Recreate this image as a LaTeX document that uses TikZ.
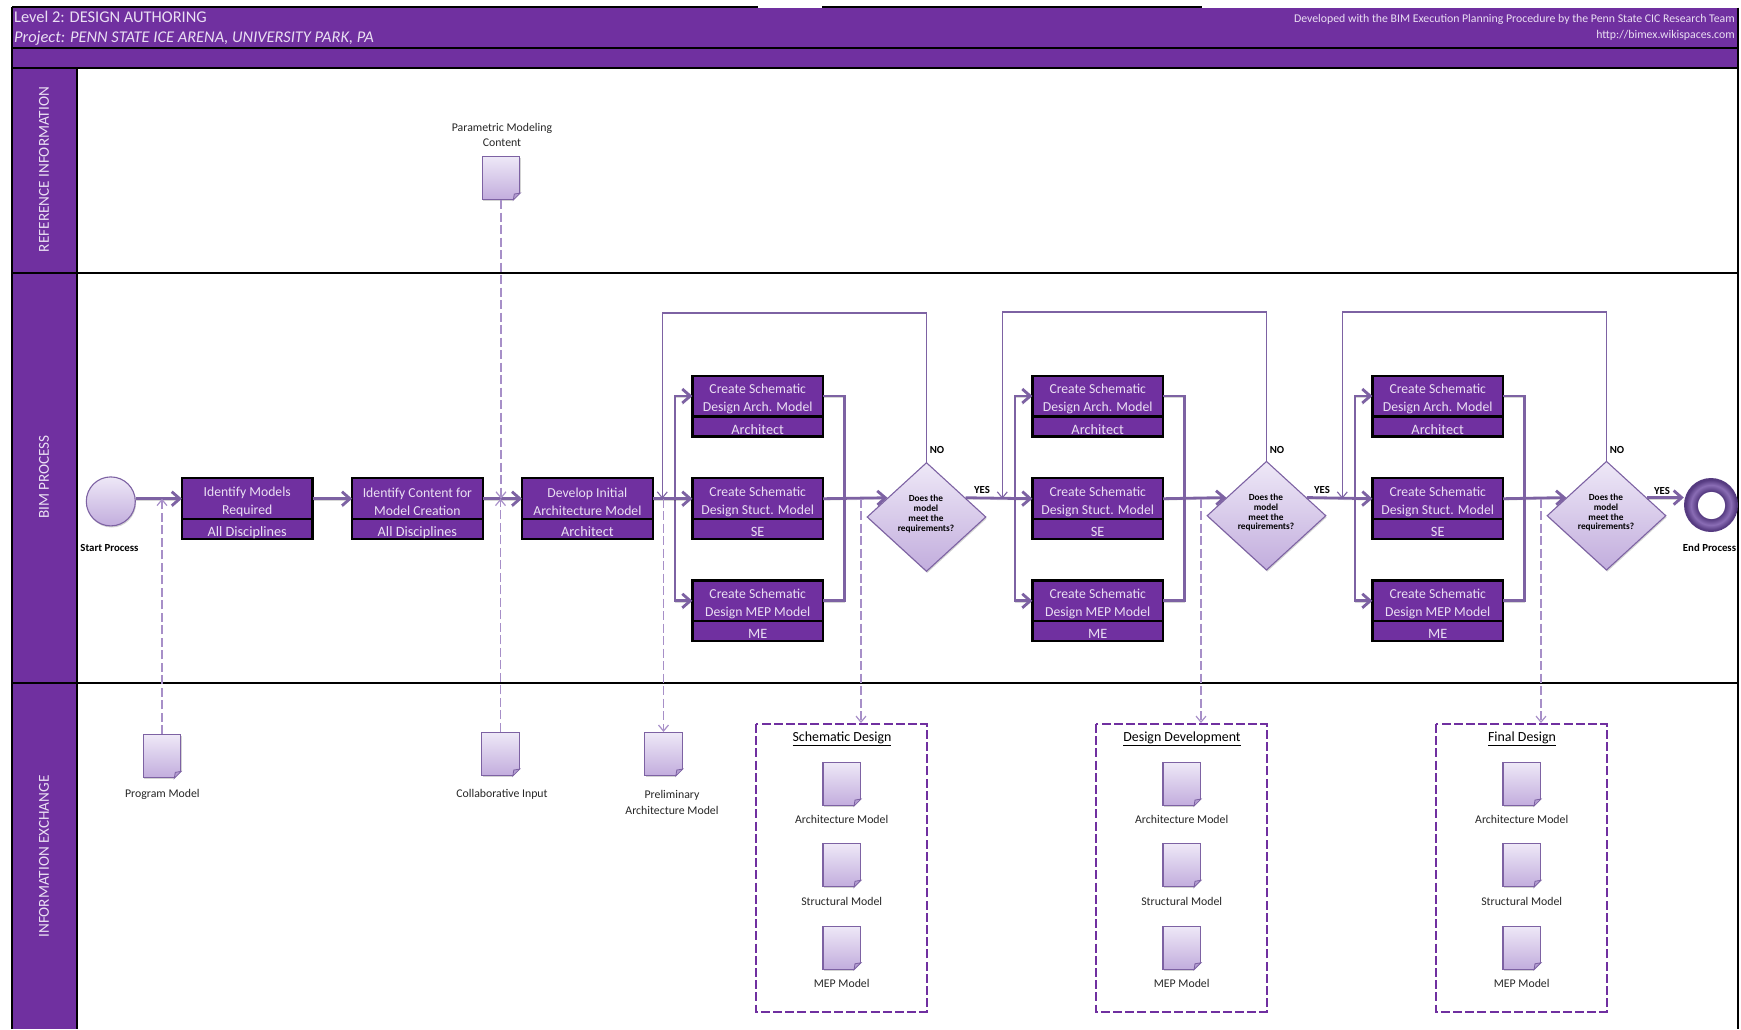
\documentclass[tikz,border=0pt]{standalone}
\usepackage{fontspec}
\setmainfont{Carlito}
\usepackage{xcolor}
\usetikzlibrary{calc,positioning,arrows.meta,shapes.geometric,shadows}

\definecolor{bandpurple}{HTML}{7030A0}
\definecolor{flowpurple}{HTML}{7D62A3}
\definecolor{dashpurple}{HTML}{A78FC8}
\definecolor{paletext}{HTML}{EADFF3}
\definecolor{shadetop}{HTML}{EEE8F7}
\definecolor{shadebot}{HTML}{C2ADDD}
\definecolor{ringdark}{HTML}{553A80}
\definecolor{ringlight}{HTML}{8A6DB5}

\pgfdeclareradialshading{torus}{\pgfpoint{0bp}{0bp}}{%
    color(0bp)=(white); color(12.5bp)=(white); color(12.9bp)=(ringdark);
    color(18.5bp)=(ringlight); color(23.5bp)=(ringdark); color(25bp)=(ringdark); color(50bp)=(ringdark)}

% one document icon with its folded corner
\newcommand{\docicon}[3]{%
    \node[docshape] (#1) at (#2,#3) {};
    \fill[white] ($(#1.south east)+(-8,1)$) -- ++(9,0) -- ++(0,-9) -- cycle;
    \fill[shadebot!80!flowpurple, draw=flowpurple, line width=0.8pt]
        ($(#1.south east)+(-7,0)$) -- ($(#1.south east)+(0,-7)$) -- ($(#1.south east)+(-6,-6)$) -- cycle;
}

% two lines of a task, set a little below the middle of the box
\newcommand{\tasktext}[2]{\rule{0pt}{15.5pt}#1\\#2}
% the role under a task, same idea
\newcommand{\roletext}[1]{\rule[-1pt]{0pt}{17.5pt}#1}

\begin{document}
\begin{tikzpicture}[x=1pt,y=-1pt,>={Straight Barb[length=6pt,width=10pt]}]

    % Styles
    \tikzset{
        taskbox/.style={rectangle, draw=black, line width=2.2pt, fill=bandpurple, text=paletext,
            minimum width=130.6pt, minimum height=40.8pt, inner sep=0pt, outer sep=0pt, align=center,
            font=\fontsize{13.7}{17.7}\selectfont},
        rolebox/.style={taskbox, minimum height=20pt, anchor=north, font=\fontsize{14.3}{17}\selectfont},
        docshape/.style={rectangle, draw=flowpurple, line width=1.1pt, top color=shadetop, bottom color=shadebot,
            minimum width=37.5pt, minimum height=43pt, inner sep=0pt,
            drop shadow={opacity=.35,shadow xshift=.8pt,shadow yshift=-1.6pt}},
        doclabel/.style={align=center, inner sep=0pt, text=black!85, font=\fontsize{11.8}{15.5}\selectfont},
        boldlabel/.style={align=center, inner sep=0pt, font=\bfseries\fontsize{10.8}{12}\selectfont},
        decision/.style={diamond, aspect=1.09, draw=flowpurple, line width=1.1pt, top color=shadetop, bottom color=shadebot,
            minimum width=119pt, minimum height=109pt, inner sep=0pt,
            drop shadow={opacity=.35,shadow xshift=.8pt,shadow yshift=-1.6pt}},
        dectext/.style={align=center, inner sep=0pt, font=\bfseries\fontsize{9.3}{9.8}\selectfont},
        lanetitle/.style={rotate=90, inner sep=0pt, text=paletext, font=\fontsize{15.2}{18}\selectfont},
        flow/.style={draw=flowpurple, line width=2.8pt, >={Straight Barb[length=8pt,width=14pt]},
            preaction={draw=black, opacity=.16, transform canvas={yshift=-1.6pt}}},
        loopback/.style={draw=flowpurple, line width=1.1pt},
        exchange/.style={draw=dashpurple, line width=1.2pt, dash pattern=on 9pt off 3.5pt},
        groupbox/.style={draw=bandpurple, line width=2.4pt, dash pattern=on 9pt off 3.2pt},
        frameline/.style={draw=black, line width=2.2pt}
    }

    \useasboundingbox (0,0) rectangle (1741,1029);

    % Header and lane column
    \fill[bandpurple] (12,7.5) rectangle (1737,67.7);
    \fill[bandpurple] (12,67.7) rectangle (77,1029);
    \draw[frameline] (12,7) -- (758,7);
    \draw[frameline] (822,7) -- (1202,7);
    \draw[frameline] (12,7) -- (12,1029);
    \draw[frameline] (77,67.7) -- (77,1029);
    \draw[frameline] (1737.7,7.5) -- (1737.7,1029);
    \draw[frameline] (12,47.7) -- (1737.7,47.7);
    \draw[frameline] (12,67.7) -- (1737.7,67.7);
    \draw[frameline] (12,272.7) -- (1737.7,272.7);
    \draw[frameline] (12,682.8) -- (1737.7,682.8);

    % Header text
    \node[anchor=west, inner sep=0pt, text=paletext, font=\fontsize{16.4}{18}\selectfont] (level) at (14,16.7) {Level 2: DESIGN AUTHORING};
    \node[anchor=west, inner sep=0pt, text=paletext, font=\itshape\fontsize{16.4}{18}\selectfont] (project) at (14,38.7) {Project: PENN STATE ICE ARENA, UNIVERSITY PARK, PA};
    \node[anchor=east, inner sep=0pt, text=paletext, font=\fontsize{11.8}{13}\selectfont] (credit) at (1735,19.3) {Developed with the BIM Execution Planning Procedure by the Penn State CIC Research Team};
    \node[anchor=east, inner sep=0pt, text=paletext, font=\fontsize{11.8}{13}\selectfont] (url) at (1735,35.5) {http://bimex.wikispaces.com};

    % Lane titles
    \node[lanetitle] (laneref) at (44,169.5) {REFERENCE INFORMATION};
    \node[lanetitle] (lanebim) at (44,477) {BIM PROCESS};
    \node[lanetitle] (laneinfo) at (44,856.6) {INFORMATION EXCHANGE};

    % Start and end
    \node[circle, draw=flowpurple, line width=1.1pt, top color=shadetop, bottom color=shadebot, minimum size=49pt, inner sep=0pt,
        drop shadow={opacity=.35,shadow xshift=.8pt,shadow yshift=-1.6pt}] (start) at (110.8,501.4) {};
    \node[boldlabel] (startlabel) at (109.4,547.7) {Start Process};
    \node[circle, shading=torus, minimum size=54pt, inner sep=0pt] (finish) at (1711,505) {};
    \node[boldlabel] (finishlabel) at (1709.5,547.3) {End Process};

    % First three tasks
    \node[taskbox] (t1) at (247.2,498.7) {\tasktext{Identify Models}{Required}};
    \node[rolebox] (t1r) at (t1.south) {\roletext{All Disciplines}};
    \node[taskbox] (t2) at (417.4,498.7) {\tasktext{Identify Content for}{Model Creation}};
    \node[rolebox] (t2r) at (t2.south) {\roletext{All Disciplines}};
    \node[taskbox] (t3) at (587.4,498.7) {\tasktext{Develop Initial}{Architecture Model}};
    \node[rolebox] (t3r) at (t3.south) {\roletext{Architect}};

    \draw[flow,->] (start.east |- t1.west) -- (t1.west);
    \draw[flow,->] (t1.east) -- (t2.west);
    \draw[flow,->] (t2.east) -- (t3.west);

    % Documents outside the stages
    \docicon{docparam}{501}{178}
    \node[doclabel] (docparamlabel) at (502,134.7) {Parametric Modeling\\Content};
    \docicon{docprog}{162}{756.3}
    \node[doclabel] (docproglabel) at (162.4,794.7) {Program Model};
    \docicon{doccollab}{500.5}{754}
    \node[doclabel] (doccollablabel) at (502,794.7) {Collaborative Input};
    \docicon{docprelim}{663.5}{754}
    \node[doclabel] (docprelimlabel) at (672,802.4) {Preliminary\\Architecture Model};

    % Stages
    \foreach \s/\off/\cy/\edge/\ly/\stagename in {
        1/0/517/0.35/313/Schematic Design,
        2/340/515.7/0.33/312/Design Development,
        3/680/515.7/0.33/312/Final Design} {
        \begin{scope}[shift={(\off,0)}]
            \node[taskbox] (a\s) at (757.7,396) {\tasktext{Create Schematic}{Design Arch. Model}};
            \node[rolebox] (a\s r) at (a\s.south) {\roletext{Architect}};
            \node[taskbox] (b\s) at (757.7,498.7) {\tasktext{Create Schematic}{Design Stuct. Model}};
            \node[rolebox] (b\s r) at (b\s.south) {\roletext{SE}};
            \node[taskbox] (c\s) at (757.7,600.8) {\tasktext{Create Schematic}{Design MEP Model}};
            \node[rolebox] (c\s r) at (c\s.south) {\roletext{ME}};

            \node[decision] (dec\s) at (926.5,\cy) {};
            \node[dectext] (dect\s) at (926,\cy-3) {Does the\\model\\meet the\\requirements?};
            \node[boldlabel] (no\s) at (937,449.7) {NO};

            \coordinate (busl\s) at (675,498.7);
            \coordinate (busr\s) at (844.3,498.7);
            \coordinate (in\s) at ($(dec\s.west)!\edge!(dec\s.north)$);
            \coordinate (out\s) at ($(dec\s.east)!\edge!(dec\s.north)$);
            \coordinate (loopl\s) at (662.3,\ly);
            \coordinate (tap\s) at (861,498.7);
            \coordinate (grouptop\s) at (861,723);

            % Inside the stage
            \draw[flow,->] (busl\s) |- (a\s.west);
            \draw[flow,->] (busl\s) |- (c\s.west);
            \draw[flow] (a\s.east) -| (busr\s) |- (c\s.east);
            \draw[flow,->] (b\s.east) -- (in\s);

            % Back to the start of the stage
            \draw[loopback,->] (dec\s.north) |- (loopl\s) -- (loopl\s |- b\s.west);

            % Deliverables
            \draw[groupbox] (756,724) rectangle (926.7,1012);
            \node[inner sep=0pt, font=\fontsize{13.9}{15}\selectfont] (title\s) at (842,739) {\underline{\stagename}};
            \docicon{da\s}{841.7}{784}
            \node[doclabel] (dal\s) at (841.7,819.3) {Architecture Model};
            \docicon{ds\s}{841.7}{865.2}
            \node[doclabel] (dsl\s) at (841.7,901.3) {Structural Model};
            \docicon{dm\s}{841.7}{947.7}
            \node[doclabel] (dml\s) at (841.7,983.3) {MEP Model};
            \draw[exchange,->] (tap\s) -- (grouptop\s);
        \end{scope}
    }

    % Flow between stages
    \draw[flow,->] (t3.east) -- (b1.west);
    \draw[flow,->] (out1) -- (b2.west);
    \draw[flow,->] (out2) -- (b3.west);
    \draw[flow,->] (out3) -- (finish.west |- out3);
    \node[boldlabel] (yes1) at (982,490) {YES};
    \node[boldlabel] (yes2) at (1322,489.5) {YES};
    \node[boldlabel] (yes3) at (1662,490.5) {YES};

    % Information exchange
    \draw[exchange,->] (docparam.south) -- (docparam.south |- t3.west);
    \draw[exchange,->] (doccollab.north) -- (doccollab.north |- t3.west);
    \draw[exchange,->] (docprog.north) -- (docprog.north |- t1.west);
    \draw[exchange,->] (docprelim.north |- b1.west) -- (docprelim.north);

\end{tikzpicture}
\end{document}
